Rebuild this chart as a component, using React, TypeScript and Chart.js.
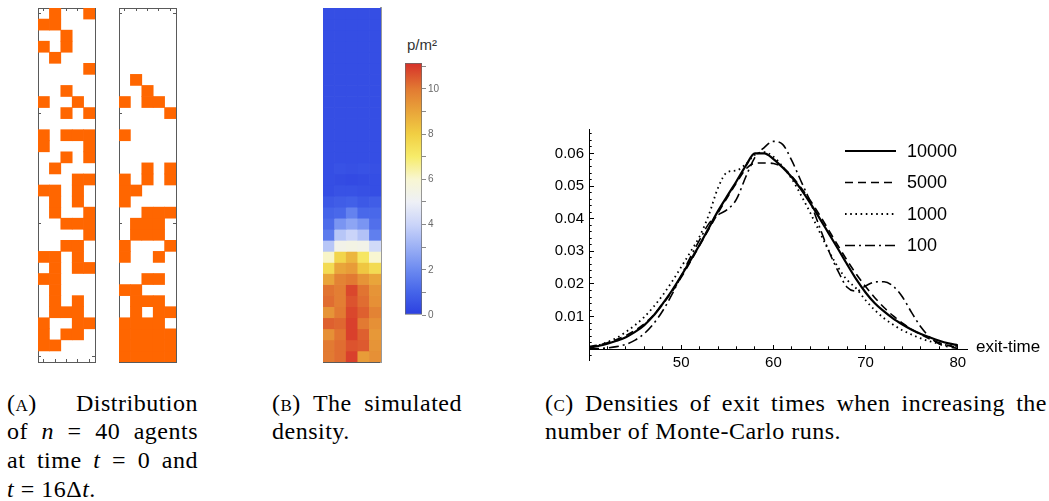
import React, { useEffect, useRef } from "react";
import { Chart, registerables } from "chart.js";

Chart.register(...registerables);

// ---------------- Panel A: agent occupancy (5 columns x 32 rows) ----------------
const gridColumns = ["1", "2", "3", "4", "5"];
const frameRowTicks = [1, 10, 20, 32];
const agentsAtT0 = [
  "01001", "11000", "00100", "10100", "01000", "00001", "00000", "00100",
  "10010", "00101", "00000", "10111", "10001", "00101", "01000", "00011",
  "11010", "01010", "01001", "00111", "00001", "00110", "11010", "01011",
  "11000", "01000", "01010", "01110", "10011", "10110", "11000", "00000",
];
const agentsAtT16 = [
  "00000", "00000", "00000", "00000", "00000", "00000", "01000", "00100",
  "10110", "00001", "00000", "10000", "00000", "00000", "00101", "10101",
  "11000", "10000", "00111", "01110", "01110", "10001", "10010", "00000",
  "00110", "11000", "01110", "01011", "11110", "11111", "11111", "11111",
];

// ---------------- Panel B: simulated density (p/m²) ----------------
const densityRows = [
  [0.4, 0.4, 0.4, 0.4, 0.4],
  [0.4, 0.4, 0.4, 0.4, 0.4],
  [0.4, 0.4, 0.4, 0.4, 0.4],
  [0.4, 0.4, 0.4, 0.4, 0.4],
  [0.4, 0.4, 0.4, 0.4, 0.4],
  [0.4, 0.4, 0.4, 0.4, 0.4],
  [0.4, 0.4, 0.4, 0.4, 0.4],
  [0.4, 0.4, 0.4, 0.4, 0.4],
  [0.4, 0.4, 0.4, 0.4, 0.4],
  [0.4, 0.4, 0.4, 0.4, 0.4],
  [0.4, 0.4, 0.4, 0.4, 0.4],
  [0.4, 0.4, 0.4, 0.4, 0.4],
  [0.4, 0.4, 0.4, 0.4, 0.4],
  [0.4, 0.4, 0.4, 0.4, 0.4],
  [0.4, 0.5, 0.45, 0.5, 0.45],
  [0.4, 0.35, 0.3, 0.35, 0.4],
  [0.4, 0.5, 0.5, 0.45, 0.4],
  [0.7, 0.8, 0.9, 0.7, 0.8],
  [1.0, 1.1, 1.8, 1.1, 1.1],
  [1.2, 2.3, 2.7, 2.3, 1.3],
  [1.6, 3.6, 4.0, 3.5, 1.7],
  [3.6, 5.4, 5.5, 5.4, 4.2],
  [6.1, 7.8, 8.6, 7.2, 6.0],
  [7.6, 9.0, 9.2, 8.2, 7.6],
  [9.0, 9.8, 10.0, 9.4, 9.0],
  [10.1, 9.9, 10.8, 10.1, 9.4],
  [10.2, 9.9, 10.6, 10.2, 9.5],
  [9.4, 10.0, 10.8, 10.4, 9.8],
  [10.4, 10.3, 10.9, 10.0, 9.5],
  [9.5, 10.1, 10.9, 10.4, 9.3],
  [10.0, 10.2, 10.6, 10.5, 9.4],
  [10.0, 10.2, 10.9, 9.2, 9.5],
];
const colorStops = [0, 1, 2, 3, 4, 5, 6, 7, 8, 9, 10, 11.15];
const colorHex = [
  "#2b3fe0", "#4564e9", "#6c8af0", "#9bb0f5", "#cad4f9", "#eef0f6",
  "#f8f6d2", "#f7ec6a", "#f1cf43", "#e9a53a", "#e27a32", "#d6302a",
];
const colorbarMax = 11.15;
const colorbarTickValues = [0, 1, 2, 3, 4, 5, 6, 7, 8, 9, 10, 11];

// ---------------- Panel C: densities of exit times ----------------
const exitTimes = [
  40, 41, 42, 43, 44, 45, 46, 47, 48, 49, 50, 51, 52, 53, 54, 55, 56, 57, 58, 59, 60,
  61, 62, 63, 64, 65, 66, 67, 68, 69, 70, 71, 72, 73, 74, 75, 76, 77, 78, 79, 80,
];
const runs10000 = [
  0.0005, 0.001, 0.0017, 0.0026, 0.0037, 0.0053, 0.0074, 0.0103, 0.014, 0.018, 0.0225,
  0.0272, 0.032, 0.0372, 0.0424, 0.047, 0.0515, 0.0562, 0.06, 0.06, 0.0583,
  0.0557, 0.0527, 0.049, 0.0448, 0.0402, 0.0355, 0.0308, 0.026, 0.0214, 0.0174,
  0.0141, 0.0116, 0.0094, 0.0076, 0.006, 0.0047, 0.0036, 0.0026, 0.0018, 0.0012,
];
const runs5000 = [
  0.0008, 0.0013, 0.002, 0.003, 0.0042, 0.0058, 0.0078, 0.0105, 0.0138, 0.0176, 0.022,
  0.0268, 0.0318, 0.0368, 0.0418, 0.0465, 0.051, 0.0552, 0.057, 0.0571, 0.0569,
  0.0558, 0.053, 0.0495, 0.0456, 0.0412, 0.0365, 0.0318, 0.0272, 0.023, 0.0192,
  0.0158, 0.0128, 0.0102, 0.008, 0.0061, 0.0045, 0.0031, 0.002, 0.0011, 0.0005,
];
const runs1000 = [
  0.0005, 0.0012, 0.0022, 0.0035, 0.0053, 0.0074, 0.0099, 0.013, 0.0166, 0.0207, 0.0252,
  0.0298, 0.0346, 0.0412, 0.0495, 0.0543, 0.0548, 0.0567, 0.0596, 0.0604, 0.059,
  0.056, 0.0522, 0.0472, 0.0418, 0.036, 0.0302, 0.0252, 0.0212, 0.0186, 0.015,
  0.012, 0.0095, 0.0075, 0.0058, 0.0045, 0.0033, 0.0024, 0.0017, 0.0012, 0.0009,
];
const runs100 = [
  0.0001, 0.0002, 0.0004, 0.0008, 0.0015, 0.0028, 0.0048, 0.0078, 0.0118, 0.0168, 0.0225,
  0.0282, 0.0335, 0.0385, 0.0412, 0.0428, 0.046, 0.0528, 0.0588, 0.0618, 0.0637,
  0.0628, 0.0578, 0.0515, 0.0452, 0.0375, 0.0302, 0.024, 0.019, 0.0178, 0.0194,
  0.0206, 0.0207, 0.0193, 0.016, 0.0112, 0.0068, 0.0036, 0.0016, 0.0007, 0.0003,
];
const seriesLabels = ["10000", "5000", "1000", "100"];
const xMajorTicks = [50, 60, 70, 80];
const xMinorTicks = [42, 44, 46, 48, 52, 54, 56, 58, 62, 64, 66, 68, 72, 74, 76, 78];
const yMajorTicks = [0.01, 0.02, 0.03, 0.04, 0.05, 0.06];
const yMinorTicks = [
  -0.002, 0.002, 0.004, 0.006, 0.008, 0.012, 0.014, 0.016, 0.018, 0.022, 0.024, 0.026,
  0.028, 0.032, 0.034, 0.036, 0.038, 0.042, 0.044, 0.046, 0.048, 0.052, 0.054, 0.056,
  0.058, 0.062, 0.064, 0.066,
];

// ---------------- helpers ----------------
const SANS = '"Liberation Sans", Arial, Helvetica, sans-serif';
const SERIF = '"Liberation Serif", "Times New Roman", serif';

function hexToRgb(h: string): number[] {
  const n = parseInt(h.slice(1), 16);
  return [(n >> 16) & 255, (n >> 8) & 255, n & 255];
}
function densityColor(v: number): string {
  let i = 0;
  while (i < colorStops.length - 2 && v > colorStops[i + 1]) i++;
  const t = Math.max(0, Math.min(1, (v - colorStops[i]) / (colorStops[i + 1] - colorStops[i])));
  const a = hexToRgb(colorHex[i]);
  const b = hexToRgb(colorHex[i + 1]);
  return `rgb(${a.map((c, k) => Math.round(c + (b[k] - c) * t)).join(",")})`;
}

function frameScales(frameColor: string, rightColor: string, rightWidth: number) {
  const zeroW = (s: any) => { s.width = 0; };
  const zeroH = (s: any) => { s.height = 0; };
  const rowTicks = (s: any) => { s.ticks = frameRowTicks.map((v) => ({ value: v - 0.5 })); };
  const grid = { drawOnChartArea: false, tickLength: -3, tickColor: frameColor, tickWidth: 1, offset: false };
  const catAxis = (position: string) => ({
    type: "category", position, offset: true, grid, ticks: { display: false },
    border: { color: frameColor, width: 1 }, afterFit: zeroH,
  });
  const rowAxis = (position: string, color: string, width: number) => ({
    type: "linear", position, min: 0, max: densityRows.length, reverse: true,
    afterBuildTicks: rowTicks, grid: { ...grid, tickColor: frameColor }, ticks: { display: false },
    border: { color, width }, afterFit: zeroW,
  });
  return {
    x: catAxis("bottom"),
    x2: catAxis("top"),
    y: rowAxis("left", frameColor, 1),
    y2: rowAxis("right", rightColor, rightWidth),
  };
}

const baseOptions = {
  animation: false,
  responsive: false,
  devicePixelRatio: 1,
  layout: { padding: 2 },
  events: [],
  plugins: { legend: { display: false }, tooltip: { enabled: false }, title: { display: false } },
};

function occupancyConfig(rows: string[]) {
  return {
    type: "bar",
    data: {
      labels: gridColumns,
      datasets: rows.map((row, r) => ({
        data: gridColumns.map((_, c) => (row[c] === "1" ? [r, r + 1] : null)),
        backgroundColor: "#ff6600",
        borderWidth: 0,
        grouped: false,
        barPercentage: 1,
        categoryPercentage: 1,
        xAxisID: "x",
        yAxisID: "y",
      })),
    },
    options: { ...baseOptions, scales: frameScales("#5a5a5a", "#5a5a5a", 1) },
  };
}

function densityConfig() {
  return {
    type: "bar",
    data: {
      labels: gridColumns,
      datasets: densityRows.map((row, r) => ({
        data: row.map(() => [r, r + 1]),
        backgroundColor: row.map((v) => densityColor(v)),
        borderWidth: 0,
        grouped: false,
        barPercentage: 1,
        categoryPercentage: 1,
        xAxisID: "x",
        yAxisID: "y",
      })),
    },
    options: { ...baseOptions, scales: frameScales("#5a5a5a", "#9a9a9a", 2) },
  };
}

function colorbarConfig() {
  return {
    type: "bar",
    data: {
      labels: ["p/m²"],
      datasets: [
        {
          data: [[0, colorbarMax]],
          backgroundColor: (ctx: any) => {
            const chart = ctx.chart;
            const s = chart.scales && chart.scales.y;
            if (!s || !chart.chartArea) return colorHex[0];
            const g = chart.ctx.createLinearGradient(0, s.getPixelForValue(0), 0, s.getPixelForValue(colorbarMax));
            colorStops.forEach((v, i) => g.addColorStop(v / colorbarMax, colorHex[i]));
            return g;
          },
          borderColor: "#6a6a6a",
          borderWidth: 1,
          borderSkipped: false,
          barPercentage: 1,
          categoryPercentage: 1,
        },
      ],
    },
    options: {
      ...baseOptions,
      layout: { padding: { left: 5, top: 7, bottom: 10, right: 0 } },
      scales: {
        x: { display: false, offset: true },
        y: {
          type: "linear",
          position: "right",
          min: 0,
          max: colorbarMax,
          afterBuildTicks: (s: any) => { s.ticks = colorbarTickValues.map((v) => ({ value: v })); },
          afterFit: (s: any) => { s.width = 28; },
          grid: { drawOnChartArea: false, tickLength: 4, tickColor: "#8a8a8a" },
          border: { display: false },
          ticks: {
            padding: 2,
            autoSkip: false,
            color: "#6a6a6a",
            font: { family: SANS, size: 10 },
            callback: (v: number) => (v % 2 === 0 ? String(v) : ""),
          },
        },
      },
    },
  };
}

const runsLegend = {
  id: "runsLegend",
  afterDraw(chart: any) {
    const { ctx, chartArea } = chart;
    ctx.save();
    chart.data.datasets.forEach((ds: any, i: number) => {
      const y = chartArea.top + 22 + i * 31.5;
      ctx.beginPath();
      ctx.setLineDash(ds.borderDash || []);
      ctx.lineCap = "butt";
      ctx.lineWidth = ds.borderWidth;
      ctx.strokeStyle = ds.borderColor;
      ctx.moveTo(chartArea.right - 122, y);
      ctx.lineTo(chartArea.right - 71, y);
      ctx.stroke();
      ctx.setLineDash([]);
      ctx.fillStyle = "#000";
      ctx.font = `18px ${SANS}`;
      ctx.textAlign = "left";
      ctx.textBaseline = "middle";
      ctx.fillText(ds.label, chartArea.right - 60, y + 1);
    });
    const y0 = chart.scales.y.getPixelForValue(0);
    ctx.font = `17px ${SANS}`;
    ctx.textBaseline = "middle";
    ctx.fillText("exit-time", chartArea.right + 9, y0 - 2);
    ctx.restore();
  },
};

function exitConfig() {
  const series = [runs10000, runs5000, runs1000, runs100];
  const dashes = [[], [8, 5], [1.6, 3.6], [10, 4, 2, 4]];
  const widths = [2.2, 1.6, 1.8, 1.6];
  const tickFont = { family: SANS, size: 15 };
  const yMin = -0.0033;
  const yMax = 0.0675;
  return {
    type: "line",
    data: {
      datasets: series.map((vals, k) => ({
        label: seriesLabels[k],
        data: exitTimes.map((t, i) => ({ x: t, y: vals[i] })),
        borderColor: "#000",
        borderWidth: widths[k],
        borderDash: dashes[k],
        borderCapStyle: "butt",
        pointRadius: 0,
        fill: false,
        cubicInterpolationMode: "monotone",
        xAxisID: "x",
        yAxisID: "y",
      })),
    },
    options: {
      ...baseOptions,
      layout: { padding: { top: 13, right: 82, left: 0, bottom: 25 } },
      scales: {
        x: {
          type: "linear", position: { y: 0 }, min: 40, max: 81, weight: 0,
          afterBuildTicks: (s: any) => { s.ticks = xMajorTicks.map((v) => ({ value: v })); },
          grid: { drawOnChartArea: false, tickLength: -5, tickColor: "#000" },
          border: { color: "#000", width: 1 },
          ticks: { padding: 10, autoSkip: false, maxRotation: 0, color: "#000", font: tickFont, callback: (v: number) => String(v) },
        },
        xMinor: {
          type: "linear", position: { y: 0 }, min: 40, max: 81, weight: -1,
          afterBuildTicks: (s: any) => { s.ticks = xMinorTicks.map((v) => ({ value: v })); },
          grid: { drawOnChartArea: false, tickLength: -2.7, tickColor: "#000" },
          border: { display: false },
          ticks: { display: false },
        },
        y: {
          type: "linear", position: "left", min: yMin, max: yMax, weight: 0,
          afterBuildTicks: (s: any) => { s.ticks = yMajorTicks.map((v) => ({ value: v })); },
          afterFit: (s: any) => { s.width = 49; },
          grid: { drawOnChartArea: false, tickLength: -5, tickColor: "#000" },
          border: { color: "#000", width: 1 },
          ticks: { padding: 10, autoSkip: false, color: "#000", font: tickFont, callback: (v: number) => v.toFixed(2) },
        },
        yMinor: {
          type: "linear", position: "left", min: yMin, max: yMax, weight: -1,
          afterBuildTicks: (s: any) => { s.ticks = yMinorTicks.map((v) => ({ value: v })); },
          afterFit: (s: any) => { s.width = 0; },
          grid: { drawOnChartArea: false, tickLength: -2.7, tickColor: "#000" },
          border: { display: false },
          ticks: { display: false },
        },
      },
    },
    plugins: [runsLegend],
  };
}

function ChartCanvas(props: { make: () => any; left: number; top: number; width: number; height: number }) {
  const ref = useRef<HTMLCanvasElement | null>(null);
  useEffect(() => {
    const chart = new Chart(ref.current as HTMLCanvasElement, props.make());
    return () => chart.destroy();
  }, []);
  const { left, top, width, height } = props;
  return (
    <canvas
      ref={ref}
      width={width}
      height={height}
      style={{ position: "absolute", left, top, width, height, display: "block" }}
    />
  );
}

const lineStyle = (justify: boolean): React.CSSProperties => ({
  height: 28.7,
  textAlign: justify ? "justify" : "left",
  textAlignLast: justify ? "justify" : "left",
});
const sc: React.CSSProperties = { fontVariant: "small-caps" };
const captionBox = (left: number, width: number): React.CSSProperties => ({
  position: "absolute",
  left,
  top: 388.6,
  width,
  font: `24px/28.7px ${SERIF}`,
  letterSpacing: 0.5,
});

export default function App() {
  return (
    <div
      style={{
        position: "absolute",
        left: 0,
        top: 0,
        width: 1049,
        height: 501,
        background: "#fff",
        overflow: "hidden",
        color: "#000",
      }}
    >
      <ChartCanvas make={() => occupancyConfig(agentsAtT0)} left={36} top={6} width={61} height={358} />
      <ChartCanvas make={() => occupancyConfig(agentsAtT16)} left={117} top={6} width={61} height={358} />
      <ChartCanvas make={densityConfig} left={321} top={6} width={62} height={358} />
      <ChartCanvas make={colorbarConfig} left={400} top={55} width={50} height={270} />
      <div
        style={{
          position: "absolute",
          left: 397,
          top: 36,
          width: 50,
          textAlign: "center",
          font: `15px ${SANS}`,
          color: "#333",
        }}
      >
        p/m²
      </div>
      <ChartCanvas make={exitConfig} left={540} top={110} width={509} height={275} />

      <div style={captionBox(7, 191)}>
        <div style={lineStyle(true)}>
          <span style={sc}>(a)</span> Distribution
        </div>
        <div style={lineStyle(true)}>
          of <i>n</i> = 40 agents
        </div>
        <div style={lineStyle(true)}>
          at time <i>t</i> = 0 and
        </div>
        <div style={lineStyle(false)}>
          <i>t</i> = 16Δ<i>t</i>.
        </div>
      </div>

      <div style={captionBox(272, 190)}>
        <div style={lineStyle(true)}>
          <span style={sc}>(b)</span> The simulated
        </div>
        <div style={lineStyle(false)}>density.</div>
      </div>

      <div style={captionBox(545, 502)}>
        <div style={lineStyle(true)}>
          <span style={sc}>(c)</span> Densities of exit times when increasing the
        </div>
        <div style={lineStyle(false)}>number of Monte-Carlo runs.</div>
      </div>
    </div>
  );
}
